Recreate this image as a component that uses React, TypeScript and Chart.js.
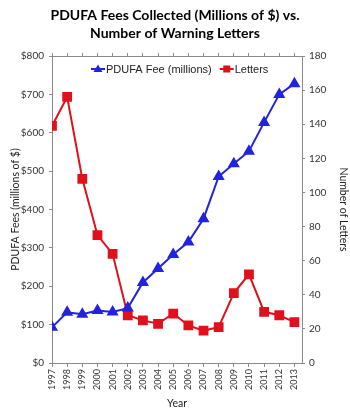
import React, { useEffect, useRef } from 'react';
import { Chart, registerables } from 'chart.js';
Chart.register(...registerables);

const years = [1997, 1998, 1999, 2000, 2001, 2002, 2003, 2004, 2005, 2006, 2007, 2008, 2009, 2010, 2011, 2012, 2013];
const fees = [93, 132, 127, 137, 133, 143, 210, 246, 283, 315, 376, 486, 519, 552, 627, 700, 728];
const letters = [139, 156, 108, 75, 64, 28, 25, 23, 29, 22, 19, 21, 41, 52, 30, 28, 24];

const titleLines = ['PDUFA Fees Collected (Millions of $) vs.', 'Number of Warning Letters'];
const feeLabel = 'PDUFA Fee (millions)';
const letterLabel = 'Letters';

const BLUE = '#2222e0';
const RED = '#e0101c';
const AXIS = '#8a8a8a';
const FAMILY = 'Lato, "Liberation Sans", sans-serif';
const TICKFONT = { family: FAMILY, size: 10 };
const XTICKFONT = { family: FAMILY, size: 9 };
const TITLEFONT = { family: FAMILY, size: 10.5 };

const legendPlugin = {
  id: 'inlineLegend',
  afterDraw(chart: any) {
    const { ctx, chartArea } = chart;
    const y = chartArea.top + 13;
    let x = chartArea.left + 39;
    ctx.save();
    ctx.font = '11px "Liberation Sans", Arial, sans-serif';
    ctx.textBaseline = 'middle';
    chart.data.datasets.forEach((ds: any) => {
      ctx.strokeStyle = ds.borderColor;
      ctx.fillStyle = ds.borderColor;
      ctx.lineWidth = 2;
      ctx.beginPath();
      ctx.moveTo(x, y);
      ctx.lineTo(x + 14, y);
      ctx.stroke();
      const cx = x + 7;
      if (ds.pointStyle === 'triangle') {
        ctx.beginPath();
        ctx.moveTo(cx, y - 4.5);
        ctx.lineTo(cx + 4.5, y + 3);
        ctx.lineTo(cx - 4.5, y + 3);
        ctx.closePath();
        ctx.fill();
      } else {
        ctx.fillRect(cx - 3.5, y - 3.5, 7, 7);
      }
      ctx.fillStyle = '#222';
      ctx.fillText(ds.label, x + 15, y + 0.5);
      x += 15 + ctx.measureText(ds.label).width + 8;
    });
    ctx.restore();
  },
};

export default function App() {
  const ref = useRef<HTMLCanvasElement>(null);
  useEffect(() => {
    if (!ref.current) return;
    const chart = new Chart(ref.current, {
      type: 'line',
      data: {
        datasets: [
          {
            label: feeLabel,
            data: years.map((y, i) => ({ x: y, y: fees[i] })),
            borderColor: BLUE,
            backgroundColor: BLUE,
            borderWidth: 2,
            pointStyle: 'triangle',
            pointRadius: 5,
            pointHoverRadius: 5,
            yAxisID: 'y',
            tension: 0,
          },
          {
            label: letterLabel,
            data: years.map((y, i) => ({ x: y, y: letters[i] })),
            borderColor: RED,
            backgroundColor: RED,
            borderWidth: 2,
            pointStyle: 'rect',
            pointRadius: 5.5,
            pointHoverRadius: 5.5,
            yAxisID: 'y2',
            tension: 0,
          },
        ],
      },
      options: {
        animation: false,
        responsive: true,
        maintainAspectRatio: false,
        layout: { padding: 0 },
        plugins: {
          legend: { display: false },
          tooltip: { enabled: false },
          title: {
            display: true,
            text: titleLines,
            color: '#000',
            font: { family: FAMILY, size: 14, weight: 'bold', lineHeight: 1.3 },
            padding: { top: 6, bottom: 10.6 },
          },
        },
        scales: {
          x: {
            type: 'linear',
            position: 'bottom',
            min: 1997,
            max: 2013.5,
            afterFit(s: any) { s.height = 51; },
            ticks: {
              stepSize: 1,
              includeBounds: false,
              autoSkip: false,
              minRotation: 90,
              maxRotation: 90,
              padding: 2,
              color: '#333',
              font: XTICKFONT,
              callback: (v: any) => String(v),
            },
            grid: { drawOnChartArea: false, drawTicks: true, tickLength: 4, color: AXIS },
            border: { display: true, color: AXIS, width: 1 },
            title: { display: true, text: 'Year', color: '#222', font: TITLEFONT, padding: { top: 0, bottom: 4 } },
          },
          xTop: {
            type: 'linear',
            position: 'top',
            min: 1997,
            max: 2013.5,
            afterFit(s: any) { s.height = 3; },
            ticks: { display: false, stepSize: 1, includeBounds: false },
            grid: { drawOnChartArea: false, drawTicks: true, tickLength: 3, color: AXIS },
            border: { display: true, color: AXIS, width: 1 },
          },
          y: {
            type: 'linear',
            position: 'left',
            min: 0,
            max: 800,
            afterFit(s: any) { s.width = 52; },
            ticks: {
              stepSize: 100,
              padding: 5,
              color: '#333',
              font: TICKFONT,
              callback: (v: any) => '$' + v,
            },
            grid: { drawOnChartArea: false, drawTicks: true, tickLength: 3, color: AXIS },
            border: { display: true, color: AXIS, width: 1 },
            title: { display: true, text: 'PDUFA Fees (millions of $)', color: '#222', font: TITLEFONT, padding: { top: 9, bottom: 0 } },
          },
          y2: {
            type: 'linear',
            position: 'right',
            min: 0,
            max: 180,
            afterFit(s: any) { s.width = 48; },
            ticks: {
              stepSize: 20,
              padding: 4,
              color: '#333',
              font: TICKFONT,
            },
            grid: { drawOnChartArea: false, drawTicks: true, tickLength: 3, color: AXIS },
            border: { display: true, color: AXIS, width: 1 },
            title: { display: true, text: 'Number of Letters', color: '#222', font: TITLEFONT, padding: { top: 0, bottom: 9 } },
          },
        },
      },
      plugins: [legendPlugin],
    } as any);
    return () => chart.destroy();
  }, []);
  return (
    <div style={{ position: 'fixed', left: 0, top: 0, width: 350, height: 414, background: '#fff' }}>
      <canvas ref={ref} />
    </div>
  );
}
